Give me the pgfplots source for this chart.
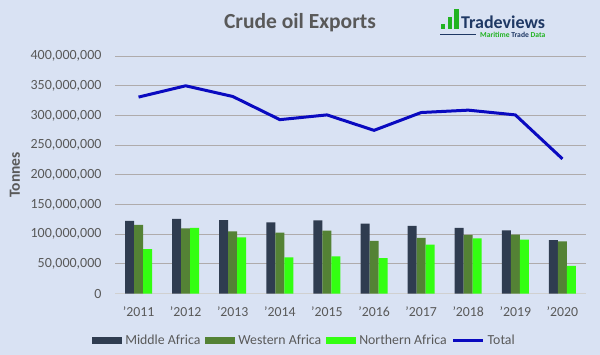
\documentclass[border=0pt]{standalone}
\usepackage{pgfplots}
\usepackage{fontspec}
\setmainfont{Carlito}
\pgfplotsset{compat=1.18}
\definecolor{bgc}{HTML}{D9E2F3}
\definecolor{txt}{HTML}{595959}
\definecolor{mid}{HTML}{2F3C50}
\definecolor{wes}{HTML}{548235}
\definecolor{nor}{HTML}{33FF11}
\definecolor{tot}{HTML}{0A0AC0}
\definecolor{grd}{HTML}{AFABAB}
\definecolor{zer}{HTML}{D0D0D0}
\definecolor{logoblue}{HTML}{1F3864}
\definecolor{logogreen}{HTML}{22B322}
\begin{document}
\begin{tikzpicture}[x=1pt,y=1pt]
\useasboundingbox (0,0) rectangle (600,355);
\fill[bgc] (0,0) rectangle (600,355);
\begin{axis}[
  at={(115pt,61.3pt)}, anchor=south west,
  scale only axis, width=471pt, height=237.6pt,
  xmin=-0.5, xmax=9.5, ymin=0, ymax=400000000,
  ybar=0pt, bar width=9pt,
  xtick={0,...,9},
  xticklabels={'2011,'2012,'2013,'2014,'2015,'2016,'2017,'2018,'2019,'2020},
  ytick={50000000,100000000,150000000,200000000,250000000,300000000,350000000,400000000},
  extra y ticks={0},
  extra y tick style={grid style={zer,line width=1pt}},
  scaled y ticks=false,
  yticklabel style={/pgf/number format/fixed,/pgf/number format/1000 sep={,},/pgf/number format/assume math mode=true,font=\fontsize{14}{15}\selectfont,text=txt,xshift=-10pt},
  xticklabel style={font=\fontsize{13.8}{15}\selectfont,text=txt,yshift=-5pt},
  axis line style={draw=none},
  tick style={draw=none},
  ymajorgrids, grid style={grd,line width=1pt},
  legend columns=4,
  legend style={at={(189.5pt,-47pt)},anchor=center,draw=none,fill=none,
    font=\fontsize{13.8}{15}\selectfont,text=txt,
    /tikz/every odd column/.append style={column sep=1pt},
    /tikz/every even column/.append style={column sep=3pt}},
  legend cell align=left,
  clip=false,
]
\addplot[ybar,draw=none,fill=mid,area legend,legend image code/.code={\fill[mid] (0pt,-3.5pt) rectangle (30pt,3.5pt);}] coordinates {(0,122500000)(1,126000000)(2,124000000)(3,120000000)(4,123500000)(5,118000000)(6,114000000)(7,111000000)(8,106700000)(9,90000000)};
\addlegendentry{Middle Africa}
\addplot[ybar,draw=none,fill=wes,area legend,legend image code/.code={\fill[wes] (0pt,-3.5pt) rectangle (30pt,3.5pt);}] coordinates {(0,115700000)(1,110000000)(2,105000000)(3,103000000)(4,106000000)(5,89000000)(6,94000000)(7,99000000)(8,99500000)(9,88000000)};
\addlegendentry{Western Africa}
\addplot[ybar,draw=none,fill=nor,area legend,legend image code/.code={\fill[nor] (0pt,-3.5pt) rectangle (30pt,3.5pt);}] coordinates {(0,75000000)(1,111000000)(2,95000000)(3,61000000)(4,63000000)(5,60000000)(6,82600000)(7,93000000)(8,91000000)(9,46700000)};
\addlegendentry{Northern Africa}
\addplot[sharp plot,tot,line width=3pt,mark=none,line join=round,legend image code/.code={\draw[tot,line width=3pt] (0pt,0pt) -- (30pt,0pt);}] coordinates {(0,331000000)(1,350000000)(2,332000000)(3,293000000)(4,301000000)(5,275000000)(6,305000000)(7,309000000)(8,301000000)(9,227000000)};
\addlegendentry{Total}
\end{axis}
\node[rotate=90,font=\bfseries\fontsize{15.5}{16}\selectfont,text=txt] at (15,180) {Tonnes};
\node[font=\bfseries\fontsize{21.5}{23}\selectfont,text=txt] at (300,332) {Crude oil Exports};
% logo
\fill[logogreen] (441,326) rectangle (445,331);
\fill[logogreen] (447.5,326) rectangle (452,338);
\fill[logogreen] (454,326) rectangle (458.5,346);
\node[anchor=base west,inner sep=0pt,font=\bfseries\fontsize{18}{19}\selectfont,text=logoblue] at (461,326.5) {Tradeviews};
\draw[logoblue,line width=1pt] (440,320) -- (476,320);
\node[anchor=base west,inner sep=0pt,font=\bfseries\fontsize{7.6}{8}\selectfont] at (480,317) {\textcolor{logogreen}{Maritime} \textcolor{logoblue}{Trade} \textcolor{logogreen}{Data}};
\end{tikzpicture}
\end{document}
